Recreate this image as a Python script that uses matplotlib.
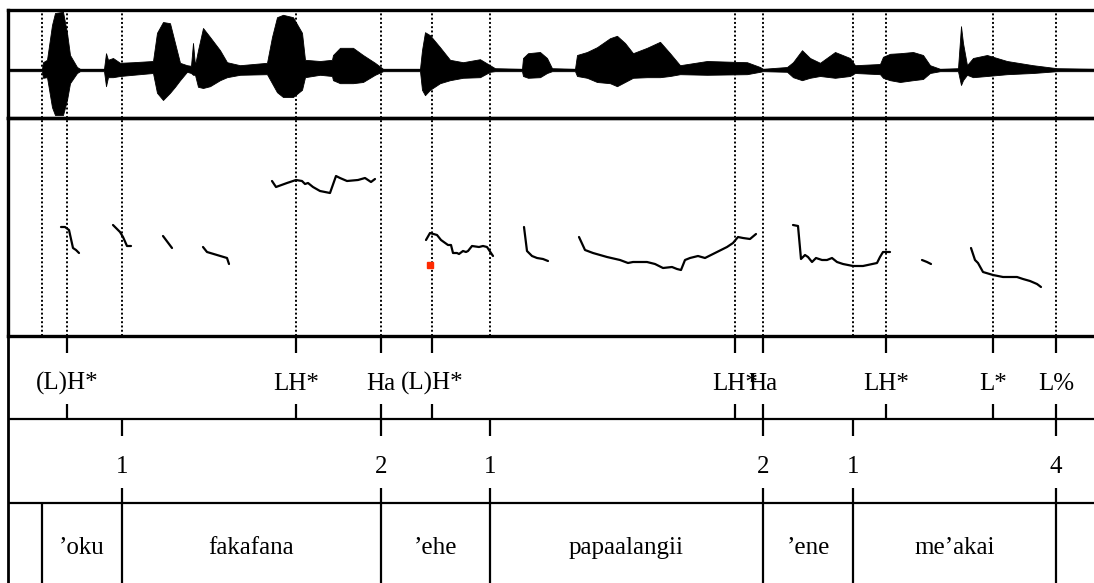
import matplotlib.pyplot as plt
import numpy as np

plt.rcParams['font.family'] = ['Liberation Serif', 'DejaVu Serif']

# waveform envelope: time, upper and lower amplitude
wave_t = [8, 42, 43, 47, 52, 55, 63, 67, 70, 77, 80, 104, 106, 108, 113, 120, 133, 153,
          157, 163, 170, 175, 180, 187, 191, 193, 195, 198, 203, 210, 220, 227, 240, 267,
          272, 277, 283, 293, 302, 305, 320, 332, 333, 340, 353, 363, 375, 383, 420,
          422, 425, 430, 440, 450, 463, 480, 490, 495, 522, 523, 528, 540, 547, 552, 575,
          577, 587, 597, 610, 617, 625, 633, 647, 660, 670, 680, 707, 747, 760, 763, 787,
          793, 802, 810, 820, 835, 850, 855, 880, 883, 890, 900, 913, 923, 930, 940,
          958, 961, 963, 967, 973, 987, 1007, 1033, 1057, 1100]
wave_hi = [0.02, 0.02, 0.13, 0.17, 0.75, 0.95, 0.97, 0.62, 0.25, 0.05, 0.02, 0.02, 0.28, 0.17, 0.20, 0.12, 0.13, 0.15,
           0.62, 0.80, 0.78, 0.45, 0.12, 0.08, 0.07, 0.45, 0.08, 0.33, 0.70, 0.55, 0.33, 0.13, 0.08, 0.12,
           0.55, 0.88, 0.92, 0.88, 0.62, 0.17, 0.15, 0.17, 0.25, 0.37, 0.37, 0.25, 0.12, 0.02, 0.02,
           0.33, 0.63, 0.58, 0.38, 0.17, 0.13, 0.18, 0.08, 0.03, 0.02, 0.20, 0.28, 0.30, 0.20, 0.03, 0.02,
           0.25, 0.30, 0.38, 0.53, 0.57, 0.45, 0.28, 0.37, 0.47, 0.28, 0.08, 0.15, 0.13, 0.05, 0.02, 0.05,
           0.13, 0.33, 0.20, 0.12, 0.30, 0.20, 0.08, 0.10, 0.22, 0.27, 0.28, 0.30, 0.25, 0.08, 0.02,
           0.03, 0.73, 0.45, 0.08, 0.20, 0.25, 0.15, 0.08, 0.03, 0.02]
wave_lo = [-0.02, -0.02, -0.13, -0.12, -0.62, -0.75, -0.75, -0.50, -0.22, -0.05, -0.02, -0.02, -0.27, -0.12, -0.12, -0.10, -0.08, -0.05,
           -0.38, -0.50, -0.38, -0.28, -0.17, -0.03, -0.05, -0.08, -0.08, -0.28, -0.30, -0.27, -0.17, -0.12, -0.08, -0.07,
           -0.22, -0.37, -0.45, -0.45, -0.33, -0.12, -0.08, -0.10, -0.17, -0.22, -0.22, -0.20, -0.08, -0.02, -0.02,
           -0.33, -0.42, -0.33, -0.22, -0.17, -0.13, -0.12, -0.03, -0.02, -0.02, -0.10, -0.13, -0.12, -0.05, -0.02, -0.02,
           -0.10, -0.13, -0.20, -0.22, -0.27, -0.20, -0.13, -0.12, -0.12, -0.10, -0.07, -0.08, -0.07, -0.03, -0.02, -0.03,
           -0.12, -0.17, -0.13, -0.10, -0.13, -0.10, -0.05, -0.07, -0.13, -0.17, -0.20, -0.17, -0.15, -0.05, -0.02,
           -0.02, -0.25, -0.17, -0.08, -0.12, -0.10, -0.07, -0.05, -0.02, -0.02]

# pitch track (Hz), one list per voiced stretch
f0_t = [
    [61, 65, 69, 73, 76, 79],
    [113, 120, 123, 127, 131],
    [163, 172],
    [203, 207, 227, 229],
    [272, 276, 287, 296, 302, 305, 308, 313, 320, 330, 336, 340, 347, 358, 365, 371, 375],
    [426, 430, 437, 441, 448, 451, 453, 457, 459, 463, 466, 468, 472, 479, 483, 487, 493],
    [524, 527, 532, 537, 543, 548],
    [579, 585, 593, 607, 620, 628, 633, 647, 655, 663, 672, 677, 681, 685, 690, 698, 705,
     713, 727, 733, 738, 743, 750, 756],
    [793, 798, 801, 805, 808, 812, 816, 822, 827, 832, 837, 843, 853, 863, 877, 880, 883, 890],
    [922, 927, 931],
    [971, 975, 978, 983, 993, 1003, 1017, 1023, 1030, 1037, 1041],
]
f0_hz = [
    [209, 209, 206, 188, 186, 183],
    [211, 204, 199, 190, 190],
    [200, 188],
    [189, 184, 178, 172],
    [255, 249, 253, 256, 255, 252, 253, 249, 245, 243, 260, 258, 255, 256, 258, 254, 257],
    [196, 203, 201, 196, 191, 191, 183, 183, 182, 185, 184, 185, 190, 189, 190, 189, 180],
    [209, 185, 180, 178, 177, 175],
    [199, 186, 183, 179, 176, 173, 174, 174, 172, 168, 169, 167, 166, 176, 178, 180, 178,
     182, 189, 193, 199, 198, 197, 202],
    [211, 210, 177, 181, 179, 174, 178, 176, 176, 178, 174, 172, 170, 170, 173, 179, 184, 184],
    [176, 174, 172],
    [188, 176, 173, 164, 161, 159, 159, 157, 155, 152, 149],
]
odd_t = [430]
odd_hz = [171]

# annotation times (dotted lines)
marks = [42, 67, 122, 296, 381, 432, 490, 735, 763, 853, 886, 993, 1056]

tone_t = [67, 296, 381, 432, 735, 763, 886, 993, 1056]
tone_lab = ['(L)H*', 'LH*', 'Ha', '(L)H*', 'LH*', 'Ha', 'LH*', 'L*', 'L%']

brk_t = [122, 381, 490, 763, 853, 1056]
brk_lab = ['1', '2', '1', '2', '1', '4']

word_bounds = [42, 122, 381, 490, 763, 853, 1056]
words = ['\u2019oku', 'fakafana', '\u2019ehe', 'papaalangii', '\u2019ene', 'me\u2019akai']

W, H = 1094, 583
x0, x1 = 8, 1100
fig = plt.figure(figsize=(W / 100, H / 100), dpi=100)


def panel(top, bottom):
    ax = fig.add_axes([x0 / W, 1 - bottom / H, (x1 - x0) / W, (bottom - top) / H])
    ax.set_xlim(x0, x1)
    ax.set_xticks([])
    ax.set_yticks([])
    for s in ax.spines.values():
        s.set_linewidth(2.4)
    return ax


dot = (0, (1, 1.2))

# tiers: tone 2-3, break 1-2, words 0-1 (added first so the pitch frame sits on top)
ax_t = panel(336, 586)
ax_t.set_ylim(0, 3)
ax_t.patch.set_visible(False)
ax_t.spines['top'].set_visible(False)
ax_t.spines['left'].set_linewidth(2.0)
ax_t.axhline(2, color='k', lw=1.6)
ax_t.axhline(1, color='k', lw=1.6)
fs = 18
for t, lab in zip(tone_t, tone_lab):
    ax_t.vlines(t, 2.8, 3, color='k', lw=1.6)
    ax_t.vlines(t, 2.0, 2.18, color='k', lw=1.6)
    ax_t.text(t, 2.43, lab, ha='center', va='center', fontsize=fs)
for t, lab in zip(brk_t, brk_lab):
    ax_t.vlines(t, 1.8, 2.0, color='k', lw=1.6)
    ax_t.vlines(t, 1.0, 1.18, color='k', lw=1.6)
    ax_t.text(t, 1.43, lab, ha='center', va='center', fontsize=fs)
for b in word_bounds:
    ax_t.vlines(b, 0, 1, color='k', lw=1.6)
for a, b, w in zip(word_bounds[:-1], word_bounds[1:], words):
    ax_t.text((a + b) / 2, 0.46, w, ha='center', va='center', fontsize=fs)

# waveform
ax_w = panel(10, 118)
ax_w.set_ylim(-0.8, 1.0)
for m in marks:
    ax_w.axvline(m, color='k', lw=1.4, ls=dot, zorder=1)
ax_w.axhline(0, color='k', lw=1.5, zorder=2)
ax_w.fill_between(wave_t, wave_lo, wave_hi, color='k', lw=0.6, zorder=3)

# pitch
ax_p = panel(118, 336)
ax_p.set_ylim(100, 318)
ax_p.patch.set_visible(False)
for m in marks:
    ax_p.axvline(m, color='k', lw=1.4, ls=dot, zorder=1)
for t, f in zip(f0_t, f0_hz):
    ax_p.plot(t, f, color='k', lw=1.6, solid_capstyle='round', zorder=3)
ax_p.plot(odd_t, odd_hz, 's', color='#ff2a00', ms=4, zorder=4)

fig.savefig('out.png', dpi=100)
